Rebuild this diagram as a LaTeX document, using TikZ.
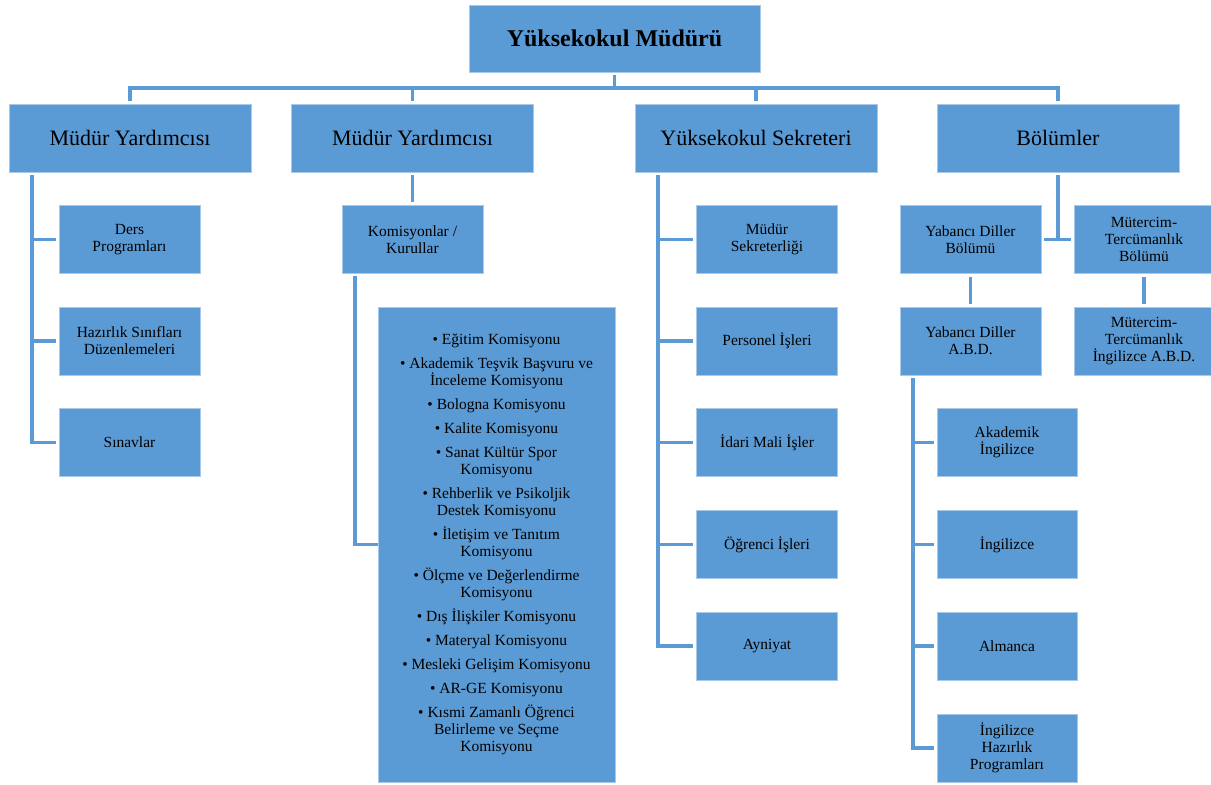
\documentclass[tikz,border=0pt]{standalone}
\usepackage{fontspec}
\setmainfont{Liberation Serif}
\usepackage{tikz}
\usetikzlibrary{positioning,calc}
\usepackage{xcolor}
\definecolor{ChartBlue}{HTML}{5B9BD5}
\definecolor{ChartEdge}{HTML}{A9C8EA}
\definecolor{ChartText}{HTML}{000000}

\tikzset{
  boxBase/.style={rectangle,fill=ChartBlue,draw=ChartEdge,line width=0.8pt,
    align=center,inner sep=2pt,text=ChartText},
  boxTop/.style={boxBase,minimum width=291pt,minimum height=67pt,
    font=\fontsize{24}{27}\selectfont\bfseries},
  boxHead/.style={boxBase,minimum width=242pt,minimum height=68pt,
    font=\fontsize{22}{25}\selectfont},
  boxSub/.style={boxBase,minimum width=141pt,minimum height=68pt,
    font=\fontsize{15.5}{17}\selectfont},
  boxList/.style={boxBase,minimum width=237pt,minimum height=475pt,
    font=\fontsize{15.5}{17}\selectfont},
  boxLink/.style={draw=ChartBlue,line width=3.2pt},
  gapEnd/.style={shorten >=3pt},
  gapBoth/.style={shorten <=3pt,shorten >=3pt}
}

\begin{document}
\begin{tikzpicture}[x=1pt,y=-1pt]
  \useasboundingbox (0,0) rectangle (1211,785);

  % top and heads
  \node[boxTop]  (mudur) at (614.5,38.5) {Yüksekokul Müdürü};
  \node[boxHead] (myrd1) at (130,138)    {Müdür Yardımcısı};
  \node[boxHead] (myrd2) at (412.5,138)  {Müdür Yardımcısı};
  \node[boxHead] (sekr)  at (756,138)    {Yüksekokul Sekreteri};
  \node[boxHead] (bolum) at (1058,138)   {Bölümler};

  % first deputy
  \node[boxSub] (ders)  at (129.5,239.5) {Ders\\Programları};
  \node[boxSub] (hazir) at (129.5,341)   {Hazırlık Sınıfları\\Düzenlemeleri};
  \node[boxSub] (sinav) at (129.5,442.5) {Sınavlar};

  % second deputy
  \node[boxSub] (komis) at (412.5,239.5) {Komisyonlar /\\Kurullar};
  \node[boxList] (liste) at (496.5,544.5) {%
    \textbullet{} Eğitim Komisyonu\\[7pt]
    \textbullet{} Akademik Teşvik Başvuru ve\\İnceleme Komisyonu\\[7pt]
    \textbullet{} Bologna Komisyonu\\[7pt]
    \textbullet{} Kalite Komisyonu\\[7pt]
    \textbullet{} Sanat Kültür Spor\\Komisyonu\\[7pt]
    \textbullet{} Rehberlik ve Psikoljik\\Destek Komisyonu\\[7pt]
    \textbullet{} İletişim ve Tanıtım\\Komisyonu\\[7pt]
    \textbullet{} Ölçme ve Değerlendirme\\Komisyonu\\[7pt]
    \textbullet{} Dış İlişkiler Komisyonu\\[7pt]
    \textbullet{} Materyal Komisyonu\\[7pt]
    \textbullet{} Mesleki Gelişim Komisyonu\\[7pt]
    \textbullet{} AR-GE Komisyonu\\[7pt]
    \textbullet{} Kısmi Zamanlı Öğrenci\\Belirleme ve Seçme\\Komisyonu};

  % secretary
  \node[boxSub] (msekr)  at (767,239.5) {Müdür\\Sekreterliği};
  \node[boxSub] (perso)  at (767,341)   {Personel İşleri};
  \node[boxSub] (idari)  at (767,442.5) {İdari Mali İşler};
  \node[boxSub] (ogren)  at (767,544.5) {Öğrenci İşleri};
  \node[boxSub] (ayni)   at (767,646)   {Ayniyat};

  % departments
  \node[boxSub] (ydbol)  at (970.5,239.5) {Yabancı Diller\\Bölümü};
  \node[boxSub,minimum width=140pt] (mtbol) at (1144,239.5) {Mütercim-\\Tercümanlık\\Bölümü};
  \node[boxSub] (ydabd)  at (970.5,341)   {Yabancı Diller\\A.B.D.};
  \node[boxSub,minimum width=140pt] (mtabd) at (1144,341) {Mütercim-\\Tercümanlık\\İngilizce A.B.D.};
  \node[boxSub,minimum width=140pt] (akade) at (1007,442.5) {Akademik\\İngilizce};
  \node[boxSub,minimum width=140pt] (ingil) at (1007,544.5) {İngilizce};
  \node[boxSub,minimum width=140pt] (alman) at (1007,646)   {Almanca};
  \node[boxSub,minimum width=140pt] (ihazp) at (1007,748)   {İngilizce\\Hazırlık\\Programları};

  % connectors
  \coordinate (bus) at (614.5,88);
  \draw[boxLink,shorten <=3pt] (mudur.south) -- (bus);
  \draw[boxLink,gapBoth] (myrd1.north) |- (bus) -| (bolum.north);
  \draw[boxLink,gapEnd] (bus -| myrd2.north) -- (myrd2.north);
  \draw[boxLink,gapEnd] (bus -| sekr.north) -- (sekr.north);

  \coordinate (tr1) at (32,175);
  \draw[boxLink,gapEnd] (tr1) |- (sinav.west);
  \draw[boxLink,gapEnd] (tr1 |- ders.west) -- (ders.west);
  \draw[boxLink,gapEnd] (tr1 |- hazir.west) -- (hazir.west);

  \draw[boxLink,gapBoth] (myrd2.south) -- (komis.north);
  \coordinate (tr2) at (355,276);
  \draw[boxLink] (tr2) |- (liste.west);

  \coordinate (tr3) at (658,175);
  \draw[boxLink,gapEnd] (tr3) |- (ayni.west);
  \foreach \k in {msekr,perso,idari,ogren}
    \draw[boxLink,gapEnd] (tr3 |- \k.west) -- (\k.west);

  \draw[boxLink,shorten <=3pt] (bolum.south) -- (bolum.south |- ydbol.east);
  \draw[boxLink,gapBoth] (ydbol.east) -- (mtbol.west);
  \draw[boxLink,gapBoth] (ydbol.south) -- (ydabd.north);
  \draw[boxLink,gapBoth] (mtbol.south) -- (mtabd.north);

  \coordinate (tr4) at (913,378);
  \draw[boxLink,gapEnd] (tr4) |- (ihazp.west);
  \foreach \k in {akade,ingil,alman}
    \draw[boxLink,gapEnd] (tr4 |- \k.west) -- (\k.west);
\end{tikzpicture}
\end{document}
